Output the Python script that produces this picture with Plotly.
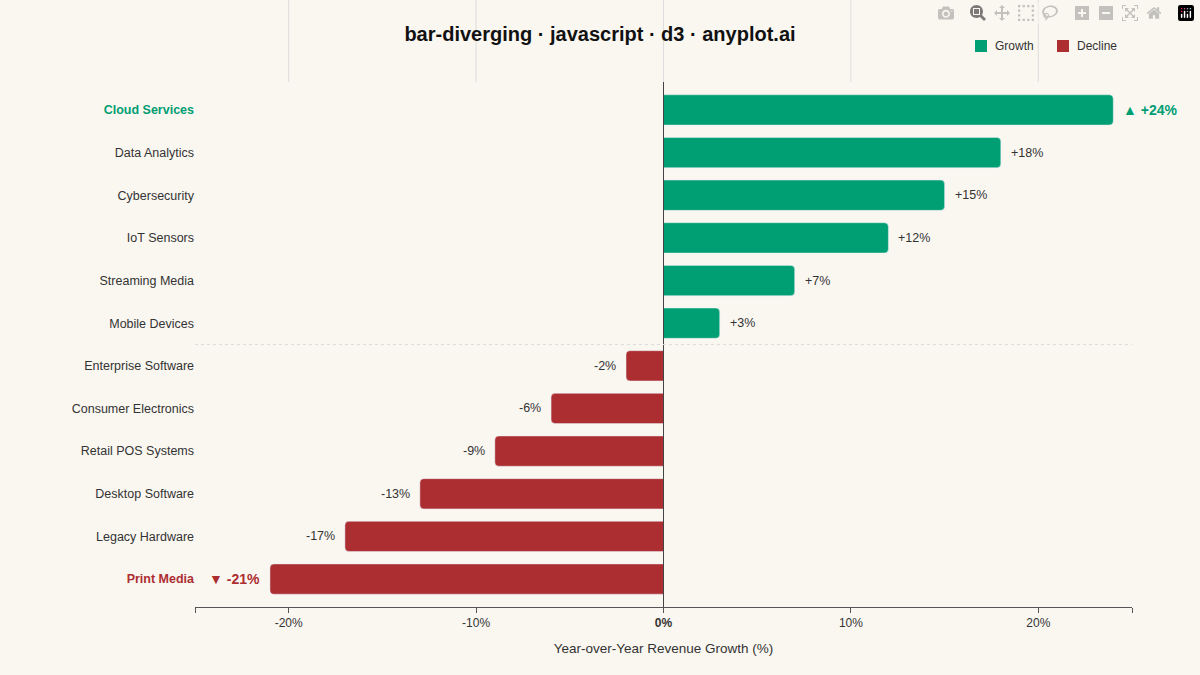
import plotly.graph_objects as go

categories = ["Cloud Services","Data Analytics","Cybersecurity","IoT Sensors","Streaming Media","Mobile Devices",
              "Enterprise Software","Consumer Electronics","Retail POS Systems","Desktop Software","Legacy Hardware","Print Media"]
values = [24,18,15,12,7,3,-2,-6,-9,-13,-17,-21]
xticks = [-20,-10,0,10,20]
xticklabels = ["-20%","-10%","<b>0%</b>","10%","20%"]

GREEN = "#009E73"; RED = "#AD2E31"; BG = "#FAF7F1"; TXT = "#333333"
pos = list(range(len(categories)))
font = "Liberation Sans, Arial, sans-serif"

fig = go.Figure()
g = [(p, v) for p, v in zip(pos, values) if v >= 0]
d = [(p, v) for p, v in zip(pos, values) if v < 0]
fig.add_trace(go.Bar(y=[p for p, _ in g], x=[v for _, v in g], orientation="h", marker_color=GREEN,
                     width=0.71, name="Growth", showlegend=False))
fig.add_trace(go.Bar(y=[p for p, _ in d], x=[v for _, v in d], orientation="h", marker_color=RED,
                     width=0.71, name="Decline", showlegend=False))

ticktext = []
for i, (c, v) in enumerate(zip(categories, values)):
    if i == 0:
        ticktext.append(f"<b><span style='color:{GREEN}'>{c}</span></b>")
    elif i == len(categories) - 1:
        ticktext.append(f"<b><span style='color:{RED}'>{c}</span></b>")
    else:
        ticktext.append(c)

for i, (p, v) in enumerate(zip(pos, values)):
    s = f"+{v}%" if v > 0 else f"{v}%"
    extreme = i == 0 or i == len(values) - 1
    if extreme:
        s = ("▲ " if v > 0 else "▼ ") + s
        s = f"<b>{s}</b>"
    fig.add_annotation(x=v, y=p, text=s, showarrow=False, xanchor="left" if v > 0 else "right",
                       xshift=8 if v > 0 else -8,
                       font=dict(size=14 if extreme else 12.5, color=(GREEN if v > 0 else RED) if extreme else TXT,
                                 family=font))

for t in xticks:
    fig.add_shape(type="line", x0=t, x1=t, xref="x", yref="paper", y0=1, y1=1.157,
                  line=dict(color="#dddddd", width=1), layer="below")
fig.add_shape(type="line", x0=0, x1=0, xref="x", yref="paper", y0=0, y1=1, line=dict(color="#444", width=1))
fig.add_shape(type="line", x0=-25, x1=25, xref="x", y0=5.5, y1=5.5, line=dict(color="#dddddd", width=1, dash="dot"))

for lx, lab, col in [(975, "Growth", GREEN), (1057, "Decline", RED)]:
    fig.add_shape(type="rect", xref="paper", yref="paper",
                  x0=(lx - 195) / 937, x1=(lx + 12 - 195) / 937,
                  y0=(607 - 52) / 525, y1=(607 - 40) / 525, fillcolor=col, line_width=0)
    fig.add_annotation(xref="paper", yref="paper", x=(lx + 18 - 195) / 937, y=(607 - 46) / 525, text=lab,
                       showarrow=False, xanchor="left", yanchor="middle",
                       font=dict(size=12, color=TXT, family=font))

fig.update_layout(
    width=1200, height=675, paper_bgcolor=BG, plot_bgcolor=BG,
    margin=dict(l=195, r=68, t=82, b=68),
    title=dict(text="<b>bar-diverging · javascript · d3 · anyplot.ai</b>", x=0.5, xanchor="center",
               y=1 - 34 / 675, yanchor="middle", font=dict(size=20, color="#111", family=font)),
    font=dict(family=font, color=TXT, size=12.5),
    barcornerradius=4, showlegend=False,
    xaxis=dict(range=[-25, 25], tickvals=[-25] + xticks + [25], ticktext=[""] + xticklabels + [""],
               showgrid=False, zeroline=False, showline=True, linecolor="#555", ticks="outside",
               ticklen=5, tickcolor="#555", tickfont=dict(size=12, color=TXT),
               title=dict(text="Year-over-Year Revenue Growth (%)", font=dict(size=13.5, color=TXT), standoff=14)),
    yaxis=dict(range=[11.655, -0.655], tickvals=pos, ticktext=ticktext, showgrid=False, zeroline=False,
               ticks="", tickfont=dict(size=12.5, color=TXT)),
)
fig.write_html("out.html", post_script="document.body.style.margin='0';document.body.style.background='#FAF7F1';")
